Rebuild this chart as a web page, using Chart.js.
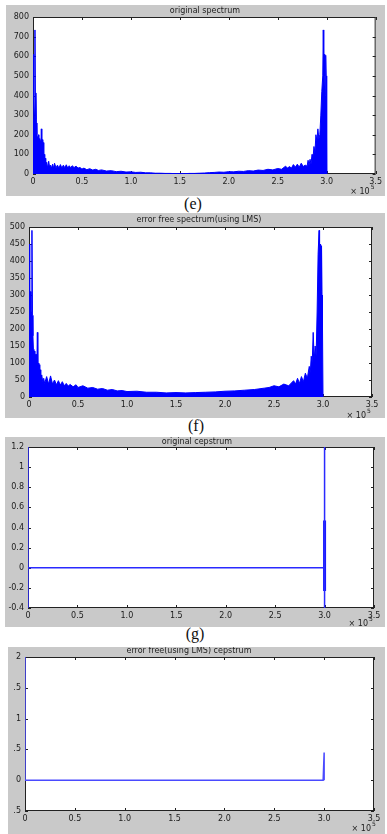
<!DOCTYPE html>
<html>
<head>
<meta charset="utf-8">
<script src="https://cdn.jsdelivr.net/npm/chart.js@4.4.1/dist/chart.umd.min.js"></script>
<style>
  body { margin: 0; background: #fff; width: 387px; height: 834px; position: relative; overflow: hidden; }
  .panel { position: absolute; background: #c9c9c9; }
  .panel canvas { position: absolute; left: 0; top: 0; }
  .caption { position: absolute; width: 30px; text-align: center; font-family: "Liberation Serif", serif; font-size: 16px; line-height: 16px; color: #111; }
</style>
</head>
<body>
<div class="caption" style="left:178px; top:196px">(e)</div>
<div class="caption" style="left:181px; top:418px">(f)</div>
<div class="caption" style="left:180px; top:626px">(g)</div>
<script>
// x axis is in units of 10^5 samples
const xMin = 0, xMax = 3.5, xStep = 0.5;

// (e) original spectrum
const spec1X = [0, 0.005, 0.01, 0.015, 0.02, 0.025, 0.03, 0.035, 0.04, 0.045, 0.05, 0.055, 0.06, 0.065, 0.07, 0.075,
  0.08, 0.085, 0.09, 0.095, 0.1, 0.105, 0.11, 0.115, 0.12, 0.125, 0.13, 0.14, 0.15, 0.16, 0.17, 0.18, 0.19, 0.2,
  0.21, 0.22, 0.235, 0.25, 0.265, 0.28, 0.295, 0.31, 0.325, 0.34, 0.355, 0.37, 0.385, 0.4, 0.42, 0.44, 0.46, 0.48,
  0.5, 0.52, 0.55, 0.58, 0.61, 0.64, 0.67, 0.7, 0.75, 0.8, 0.85, 0.9, 0.95, 1.0, 1.05, 1.1, 1.15, 1.2, 1.25, 1.3,
  1.35, 1.4, 1.45, 1.5, 1.55, 1.6, 1.65, 1.7, 1.75, 1.8, 1.85, 1.9, 1.95, 2.0, 2.05, 2.1, 2.15, 2.2, 2.25, 2.3,
  2.35, 2.4, 2.45, 2.5, 2.54, 2.58, 2.6, 2.62, 2.64, 2.66, 2.68, 2.7, 2.72, 2.74, 2.76, 2.78, 2.8, 2.81, 2.82,
  2.83, 2.84, 2.85, 2.86, 2.87, 2.88, 2.89, 2.9, 2.91, 2.92, 2.93, 2.94, 2.95, 2.96, 2.965, 2.97, 2.975, 2.98,
  2.985, 2.99, 2.995, 3.0];
const spec1Y = [280, 610, 370, 300, 734, 280, 413, 260, 200, 190, 170, 200, 150, 180, 140, 170,
  120, 230, 130, 175, 80, 160, 70, 100, 50, 80, 35, 60, 30, 65, 35, 45, 30, 50,
  30, 55, 32, 45, 30, 48, 30, 45, 32, 47, 30, 42, 32, 42, 33, 40, 30, 33,
  25, 30, 22, 27, 20, 24, 18, 21, 15, 17, 12, 14, 10, 11, 8, 9, 6, 6, 4, 4,
  3, 3, 2, 2, 2, 3, 3, 4, 5, 7, 8, 10, 9, 12, 11, 14, 13, 17, 15, 20,
  18, 24, 21, 28, 24, 40, 30, 38, 30, 48, 35, 50, 35, 55, 38, 45, 40, 70, 45,
  75, 50, 100, 80, 140, 110, 200, 170, 230, 180, 200, 300, 420, 500, 734, 550, 610, 500,
  400, 605, 500, 0];

// (f) error free spectrum (LMS)
const spec2X = [0, 0.005, 0.01, 0.015, 0.02, 0.025, 0.03, 0.035, 0.04, 0.045, 0.05, 0.055, 0.06, 0.065, 0.07, 0.075,
  0.08, 0.085, 0.09, 0.095, 0.1, 0.105, 0.11, 0.115, 0.12, 0.13, 0.14, 0.15, 0.16, 0.18, 0.2, 0.22, 0.24, 0.26,
  0.28, 0.3, 0.32, 0.34, 0.36, 0.38, 0.4, 0.42, 0.45, 0.48, 0.5, 0.55, 0.6, 0.65, 0.7, 0.75, 0.8, 0.85, 0.9,
  0.95, 1.0, 1.1, 1.2, 1.3, 1.4, 1.5, 1.6, 1.7, 1.8, 1.9, 2.0, 2.1, 2.2, 2.3, 2.4, 2.45, 2.5, 2.55, 2.6, 2.65,
  2.7, 2.72, 2.74, 2.76, 2.78, 2.8, 2.82, 2.84, 2.86, 2.87, 2.88, 2.89, 2.9, 2.91, 2.92, 2.93, 2.94, 2.95, 2.96,
  2.965, 2.97, 2.975, 2.98, 2.985, 2.99, 2.995, 3.0];
const spec2Y = [450, 300, 200, 310, 180, 250, 490, 240, 180, 140, 110, 135, 115, 125, 105, 125,
  80, 190, 90, 100, 70, 95, 60, 80, 50, 65, 45, 55, 40, 60, 38, 62, 38, 50,
  36, 48, 35, 45, 33, 40, 32, 37, 30, 36, 28, 33, 26, 28, 23, 25, 20, 22, 18,
  19, 16, 17, 14, 14, 12, 13, 12, 13, 14, 15, 17, 18, 20, 22, 26, 28, 33, 30, 38, 33,
  48, 38, 55, 40, 60, 45, 70, 55, 90, 70, 120, 100, 190, 110, 150, 120, 250, 420, 490,
  300, 350, 450, 310, 445, 300, 200, 0];

// (g) original cepstrum
const cep1X = [0, 0, 0, 3, 3, 3];
const cep1Y = [1.2, -0.4, 0, 0, 1.2, -0.4];
const cep1TailX = [3, 3];
const cep1TailY = [0.47, -0.23];

// error free (LMS) cepstrum
const cep2X = [0, 0, 2.99, 3, 3];
const cep2Y = [2, 0, 0, 0.45, 0];
const cep2YLabels = ['.5', '0', '.5', '1', '.5', '2'];

const tickFont = { family: '"DejaVu Sans"', size: 8 };
const tickColor = '#1a1a1a';

const toPoints = (xs, ys) => xs.map((x, i) => ({ x: x, y: ys[i] }));

// white plot box, black frame, inward ticks on all sides, title and exponent
const matlabAxes = {
  id: 'matlabAxes',
  beforeDatasetsDraw(chart, args, opts) {
    const { ctx, chartArea: a, scales: { x, y } } = chart;
    ctx.save();
    ctx.fillStyle = '#fff';
    ctx.fillRect(a.left, a.top, a.right - a.left, a.bottom - a.top);
    ctx.strokeStyle = '#222';
    ctx.lineWidth = 1;
    ctx.strokeRect(a.left + 0.5, a.top + 0.5, a.right - a.left - 1, a.bottom - a.top - 1);
    ctx.beginPath();
    x.ticks.forEach(t => {
      const px = Math.round(x.getPixelForValue(t.value)) + 0.5;
      ctx.moveTo(px, a.bottom); ctx.lineTo(px, a.bottom - 3);
      ctx.moveTo(px, a.top); ctx.lineTo(px, a.top + 3);
    });
    y.ticks.forEach(t => {
      const py = Math.round(y.getPixelForValue(t.value)) + 0.5;
      ctx.moveTo(a.left, py); ctx.lineTo(a.left + 3, py);
      ctx.moveTo(a.right, py); ctx.lineTo(a.right - 3, py);
    });
    ctx.stroke();

    ctx.fillStyle = '#222';
    ctx.font = '8px "DejaVu Sans"';
    ctx.textAlign = 'center';
    ctx.textBaseline = 'middle';
    ctx.fillText(opts.title, opts.titleX, a.top - opts.titleGap);

    ctx.textAlign = 'right';
    ctx.textBaseline = 'alphabetic';
    const ex = a.right + opts.expDx, ey = a.bottom + opts.expDy;
    ctx.fillText('\u00d7 10', ex, ey);
    ctx.font = '6px "DejaVu Sans"';
    ctx.textAlign = 'left';
    ctx.fillText('5', ex + 1, ey - 5);
    ctx.restore();
  }
};

function makePanel(p) {
  const box = document.createElement('div');
  box.className = 'panel';
  box.style.left = p.left + 'px';
  box.style.top = p.top + 'px';
  box.style.width = p.width + 'px';
  box.style.height = p.height + 'px';
  const canvas = document.createElement('canvas');
  canvas.width = p.width;
  canvas.height = p.height;
  canvas.style.width = p.width + 'px';
  canvas.style.height = p.height + 'px';
  box.appendChild(canvas);
  document.body.appendChild(box);

  new Chart(canvas, {
    type: 'line',
    data: { datasets: p.datasets },
    options: {
      responsive: false,
      animation: false,
      devicePixelRatio: 1,
      layout: { padding: { top: p.padTop, right: p.padRight, left: 0, bottom: 0 } },
      elements: { point: { radius: 0 }, line: { tension: 0 } },
      plugins: {
        legend: { display: false },
        tooltip: { enabled: false },
        matlabAxes: {
          title: p.title,
          titleX: p.titleX - p.left,
          titleGap: p.titleGap,
          expDx: p.expDx,
          expDy: p.expDy
        }
      },
      scales: {
        x: {
          type: 'linear',
          min: xMin,
          max: xMax,
          ticks: { stepSize: xStep, padding: 3, font: tickFont, color: tickColor, maxRotation: 0, autoSkip: false },
          grid: { display: false, drawTicks: false },
          border: { display: false },
          afterFit: s => { s.height = p.xAxisH; }
        },
        y: {
          min: p.yMin,
          max: p.yMax,
          ticks: {
            stepSize: p.yStep, padding: 4, font: tickFont, color: tickColor, autoSkip: false,
            callback: p.yLabels ? (v, i) => p.yLabels[i] : undefined
          },
          grid: { display: false, drawTicks: false },
          border: { display: false },
          afterFit: s => { s.width = p.yAxisW; }
        }
      }
    },
    plugins: [matlabAxes]
  });
}

makePanel({
  left: 6, top: 5, width: 379, height: 191,
  yAxisW: 27, padTop: 12, padRight: 8, xAxisH: 22,
  yMin: 0, yMax: 800, yStep: 100,
  title: 'original spectrum', titleX: 205, titleGap: 6,
  expDx: -6, expDy: 20,
  datasets: [{
    data: toPoints(spec1X, spec1Y),
    borderColor: '#0000ff', backgroundColor: '#0000ff', borderWidth: 1, fill: 'origin'
  }]
});

makePanel({
  left: 5, top: 213, width: 380, height: 205,
  yAxisW: 24, padTop: 14, padRight: 13, xAxisH: 21,
  yMin: 0, yMax: 500, yStep: 50,
  title: 'error free spectrum(using LMS)', titleX: 199, titleGap: 7,
  expDx: -6, expDy: 21,
  datasets: [{
    data: toPoints(spec2X, spec2Y),
    borderColor: '#0000ff', backgroundColor: '#0000ff', borderWidth: 1, fill: 'origin'
  }]
});

makePanel({
  left: 5, top: 437, width: 380, height: 190,
  yAxisW: 23, padTop: 10, padRight: 11, xAxisH: 19,
  yMin: -0.4, yMax: 1.2, yStep: 0.2,
  title: 'original cepstrum', titleX: 197, titleGap: 5,
  expDx: -6, expDy: 18,
  datasets: [{
    data: toPoints(cep1X, cep1Y),
    borderColor: '#2a2aff', borderWidth: 1.5, fill: false
  }, {
    data: toPoints(cep1TailX, cep1TailY),
    borderColor: '#1515ff', borderWidth: 3, fill: false
  }]
});

makePanel({
  left: 8, top: 647, width: 377, height: 187,
  yAxisW: 17, padTop: 10, padRight: 11, xAxisH: 23,
  yMin: -0.5, yMax: 2, yStep: 0.5, yLabels: cep2YLabels,
  title: 'error free(using LMS) cepstrum', titleX: 189, titleGap: 6,
  expDx: -3, expDy: 20,
  datasets: [{
    data: toPoints(cep2X, cep2Y),
    borderColor: '#4a4aff', borderWidth: 1.5, fill: false
  }]
});
</script>
</body>
</html>
